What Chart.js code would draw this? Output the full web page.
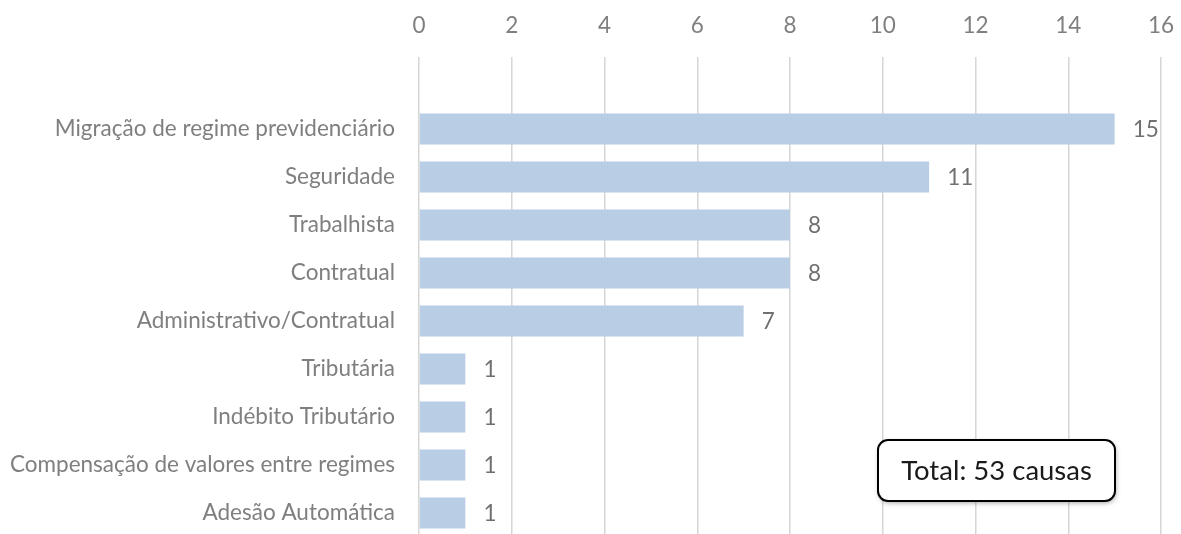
<!DOCTYPE html>
<html><head><meta charset="utf-8">
<script src="https://cdn.jsdelivr.net/npm/chart.js@4/dist/chart.umd.min.js"></script>
<style>
html,body{margin:0;padding:0;background:#fff;overflow:hidden}
#wrap{width:1181px;height:534px;overflow:hidden;position:relative;background:#fff}
#box{width:1181px;height:537px;position:relative}
canvas{display:block}
</style></head><body>
<div id="wrap"><div id="box"><canvas id="c"></canvas></div></div>
<script>
const categories = ["", "Migração de regime previdenciário", "Seguridade", "Trabalhista", "Contratual", "Administrativo/Contratual", "Tributária", "Indébito Tributário", "Compensação de valores entre regimes", "Adesão Automática"];
const values = [null, 15, 11, 8, 8, 7, 1, 1, 1, 1];
const xMin = 0, xMax = 16, xStep = 2;
const totalText = "Total: 53 causas";

const FONT = "Lato, 'Open Sans', sans-serif";
const labelColor = "#7f7f7f";

const dataLabels = {
  id: 'dataLabels',
  afterDatasetsDraw(chart) {
    const ctx = chart.ctx;
    const meta = chart.getDatasetMeta(0);
    ctx.save();
    ctx.font = "22.5px " + FONT;
    ctx.fillStyle = "#707070";
    ctx.textAlign = 'left';
    ctx.textBaseline = 'middle';
    meta.data.forEach((bar, i) => {
      const v = values[i];
      if (v === null || v === undefined) return;
      ctx.fillText(String(v), bar.x + 18, bar.y + 1);
    });
    ctx.restore();
  }
};

const totalBox = {
  id: 'totalBox',
  afterDraw(chart) {
    const ctx = chart.ctx;
    const x = 878, y = 440, w = 237, h = 61, r = 10;
    ctx.save();
    ctx.shadowColor = 'rgba(0,0,0,0.35)';
    ctx.shadowBlur = 5;
    ctx.shadowOffsetX = 1;
    ctx.shadowOffsetY = 2;
    ctx.beginPath();
    ctx.roundRect(x, y, w, h, r);
    ctx.fillStyle = '#fff';
    ctx.fill();
    ctx.shadowColor = 'transparent';
    ctx.lineWidth = 2;
    ctx.strokeStyle = '#000';
    ctx.stroke();
    ctx.font = "27.5px " + FONT;
    ctx.fillStyle = '#1a1a1a';
    ctx.textAlign = 'center';
    ctx.textBaseline = 'middle';
    ctx.fillText(totalText, x + w / 2, y + h / 2 + 1);
    ctx.restore();
  }
};

new Chart(document.getElementById('c'), {
  type: 'bar',
  data: {
    labels: categories,
    datasets: [{
      data: values,
      backgroundColor: '#b9cde5',
      borderWidth: 0,
      barPercentage: 0.65,
      categoryPercentage: 1.0
    }]
  },
  options: {
    indexAxis: 'y',
    responsive: true,
    maintainAspectRatio: false,
    animation: false,
    devicePixelRatio: 1,
    layout: { padding: { left: 0, right: 20, top: 0, bottom: 0 } },
    plugins: { legend: { display: false }, tooltip: { enabled: false } },
    scales: {
      x: {
        position: 'top',
        min: xMin, max: xMax,
        ticks: { stepSize: xStep, color: labelColor, font: { family: FONT, size: 22.5 }, padding: 18 },
        grid: { color: '#d6d6d6', lineWidth: 1.5, drawTicks: false },
        border: { display: false },
        afterFit(scale) { scale.height = 57; scale.paddingLeft = 0; scale.paddingRight = 0; }
      },
      y: {
        ticks: { color: labelColor, font: { family: FONT, size: 22.5 }, padding: 24, autoSkip: false },
        grid: { display: false, drawTicks: false },
        border: { display: false },
        afterFit(scale) { scale.width = 419; scale.paddingTop = 0; scale.paddingBottom = 0; }
      }
    }
  },
  plugins: [dataLabels, totalBox]
});
</script>
</body></html>
